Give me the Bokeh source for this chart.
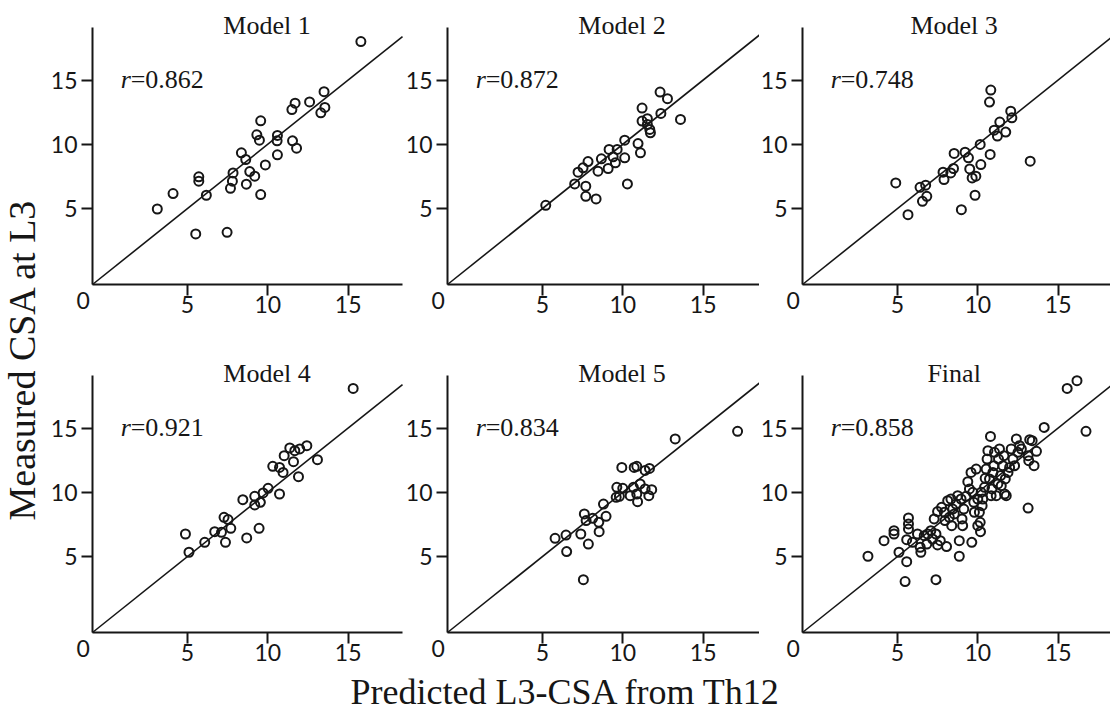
import math
from bokeh.plotting import figure
from bokeh.layouts import row, column
from bokeh.models import Range1d, FixedTicker, Label
from bokeh.embed import file_html
from bokeh.resources import INLINE

# ---------------- data ----------------
titles = ["Model 1", "Model 2", "Model 3", "Model 4", "Model 5", "Final"]
r_values = ["0.862", "0.872", "0.748", "0.921", "0.834", "0.858"]
tick_values = [5, 10, 15]
origin_label = "0"
x_title = "Predicted L3-CSA from Th12"
y_title = "Measured CSA at L3"

m1_pred = [15.79, 13.50, 12.60, 11.70, 11.50, 13.55, 13.30, 9.56, 9.32, 9.48, 10.60, 10.58, 11.54, 11.79, 8.36, 8.63,
           10.60, 9.85, 8.88, 7.84, 9.19, 7.80, 5.71, 5.71, 7.68, 8.67, 9.56, 6.18, 4.11, 3.13, 5.52, 7.47]
m1_meas = [17.99, 14.09, 13.30, 13.20, 12.70, 12.87, 12.45, 11.83, 10.74, 10.32, 10.69, 10.27, 10.27, 9.70, 9.34, 8.82,
           9.18, 8.40, 7.88, 7.78, 7.52, 7.13, 7.47, 7.13, 6.58, 6.90, 6.09, 6.04, 6.17, 4.97, 3.03, 3.16]

m2_pred = [5.21, 7.01, 7.70, 7.70, 8.34, 7.22, 7.53, 7.84, 8.46, 8.67, 9.09, 9.15, 9.40, 9.54, 9.65, 10.12, 10.12,
           10.29, 10.95, 11.10, 11.20, 11.20, 11.53, 11.53, 11.68, 11.72, 12.37, 12.32, 12.78, 13.59]
m2_meas = [5.26, 6.92, 6.74, 5.96, 5.75, 7.83, 8.17, 8.66, 7.91, 8.87, 8.12, 9.60, 9.03, 8.56, 9.60, 10.32, 8.95,
           6.92, 10.06, 9.34, 12.82, 11.81, 11.99, 11.55, 11.16, 10.90, 12.40, 14.06, 13.55, 11.94]

m3_pred = [4.90, 5.66, 6.41, 6.76, 6.56, 6.83, 7.84, 7.90, 8.32, 8.49, 8.53, 9.21, 9.42, 9.50, 9.65, 9.88, 9.83,
           8.98, 10.15, 10.19, 10.77, 10.73, 10.81, 11.02, 11.22, 11.37, 11.74, 12.05, 12.12, 13.26]
m3_meas = [7.00, 4.53, 6.66, 6.82, 5.57, 5.96, 7.83, 7.26, 7.78, 8.12, 9.29, 9.39, 8.95, 8.09, 7.39, 7.52, 6.04,
           4.92, 9.99, 8.43, 9.21, 13.29, 14.22, 11.10, 10.64, 11.73, 10.95, 12.58, 12.06, 8.69]

m4_pred = [15.31, 4.88, 5.10, 6.08, 6.70, 7.12, 7.28, 7.53, 7.70, 7.37, 8.45, 8.69, 9.19, 9.19, 9.54, 9.71, 10.02,
           9.46, 10.73, 10.31, 10.73, 10.95, 11.02, 11.37, 11.60, 11.68, 11.99, 12.43, 11.91, 13.09]
m4_meas = [18.08, 6.76, 5.34, 6.11, 6.94, 6.89, 8.06, 7.88, 7.20, 6.11, 9.43, 6.45, 9.69, 9.02, 9.22, 9.95, 10.31,
           7.20, 9.87, 12.02, 11.94, 11.55, 12.85, 13.45, 12.38, 13.24, 13.37, 13.63, 11.22, 12.54]

m5_pred = [17.14, 13.26, 5.79, 6.47, 6.51, 7.39, 7.55, 7.86, 7.61, 7.72, 8.13, 8.51, 8.53, 8.96, 8.80, 9.59, 9.63,
           9.94, 10.00, 9.79, 10.46, 10.66, 10.71, 10.87, 11.08, 10.87, 10.92, 11.39, 11.66, 11.39, 11.80, 11.62]
m5_meas = [14.74, 14.15, 6.42, 6.68, 5.39, 6.76, 3.21, 5.98, 8.32, 7.80, 7.98, 7.67, 6.94, 8.13, 9.09, 9.61, 10.39,
           11.94, 10.31, 9.69, 9.74, 10.39, 11.94, 12.02, 10.65, 9.87, 9.27, 10.26, 11.86, 11.70, 10.21, 9.74]

final_pred = [3.17, 4.17, 4.79, 4.79, 5.10, 5.48, 5.58, 5.69, 5.69, 5.69, 5.58, 5.94, 6.25, 6.42, 6.46, 6.67, 6.88,
              6.83, 7.08, 7.19, 7.40, 7.50, 7.67, 8.06, 7.40, 7.29, 7.50, 7.75, 7.92, 7.96, 8.13, 8.23, 8.33, 8.44,
              8.38, 8.54, 8.65, 8.75, 8.85, 8.85, 8.96, 9.02, 9.06, 9.13, 9.27, 9.38, 9.48, 9.58, 9.63, 9.69, 9.75,
              9.79, 9.90, 10.00, 10.10, 10.15, 10.17, 10.00, 10.21, 10.27, 10.31, 10.42, 10.46, 10.52, 10.58, 10.63,
              10.73, 10.79, 10.83, 10.88, 10.94, 11.00, 11.04, 11.15, 11.25, 11.29, 11.35, 11.42, 11.46, 11.56,
              11.63, 11.67, 11.71, 11.77, 11.88, 11.98, 12.08, 12.19, 12.29, 12.40, 12.50, 12.60, 12.71, 13.13,
              13.17, 13.23, 13.38, 13.50, 13.65, 13.13, 14.13, 15.56, 16.17, 16.73]
final_meas = [5.03, 6.24, 7.02, 6.76, 5.34, 3.06, 4.61, 8.01, 7.54, 7.15, 6.32, 6.11, 6.76, 5.73, 5.34, 6.63, 6.76,
              5.98, 7.02, 6.37, 6.76, 5.91, 6.24, 5.78, 3.21, 7.93, 8.50, 8.83, 8.45, 7.80, 9.35, 8.06, 9.48, 8.70,
              7.41, 8.32, 9.09, 9.74, 6.24, 5.03, 9.48, 7.93, 7.41, 8.70, 9.69, 10.83, 10.26, 11.55, 6.11, 10.00,
              9.22, 8.45, 11.81, 7.41, 8.45, 7.67, 6.94, 9.48, 10.00, 8.96, 9.48, 10.39, 11.09, 11.81, 12.59, 13.24,
              11.04, 14.35, 9.74, 10.26, 11.55, 12.07, 13.11, 9.74, 10.65, 12.59, 13.37, 11.30, 10.52, 12.07,
              12.85, 9.87, 11.04, 9.74, 11.55, 11.94, 13.37, 12.59, 12.07, 14.15, 13.11, 13.63, 13.37, 12.85,
              12.46, 14.09, 14.02, 12.07, 13.19, 8.78, 15.05, 18.08, 18.68, 14.74]

preds = [m1_pred, m2_pred, m3_pred, m4_pred, m5_pred, final_pred]
meass = [m1_meas, m2_meas, m3_meas, m4_meas, m5_meas, final_meas]

# ---------------- layout / style ----------------
PXU = 16.08   # px per x unit
PYU = 12.86   # px per y unit
AX0 = -0.9    # axes start slightly below 0
INK = "#161616"
SERIF = "Liberation Serif"
SANS = "Lato"
MID = 0.34    # em offset of "middle" above the baseline

# per column: (canvas width, corner offset from canvas left, axis length px)
cols = [(358, 46, 310), (355, 43, 312), (351, 43, 308)]
# per row: (canvas height, corner offset from canvas top, axis height px)
rows_ = [(345, 284, 257), (326, 287, 257)]
title_x = [9.95, 9.95, 8.53]
XT_H = 41     # height of the x-title strip


def make_panel(i):
    r_i, c_i = divmod(i, 3)
    w, cx, alen = cols[c_i]
    h, cy, ahei = rows_[r_i]
    xs = AX0 - cx / PXU
    ys = AX0 - (h - cy) / PYU
    x_axis_end = AX0 + alen / PXU
    y_axis_end = AX0 + ahei / PYU
    p = figure(width=w, height=h, x_range=Range1d(xs, xs + w / PXU), y_range=Range1d(ys, ys + h / PYU),
               output_backend="svg", toolbar_location=None, title=None, min_border=0)
    p.outline_line_color = None
    p.xgrid.visible = False
    p.ygrid.visible = False
    p.background_fill_color = "white"
    p.border_fill_color = "white"
    for ax, end, standoff in ((p.xaxis[0], x_axis_end, 0), (p.yaxis[0], y_axis_end, 4)):
        ax.fixed_location = AX0
        ax.bounds = (AX0, end)
        ax.ticker = FixedTicker(ticks=tick_values)
        ax.axis_line_width = 2
        ax.axis_line_color = INK
        ax.major_tick_out = 11
        ax.major_tick_in = 0
        ax.major_tick_line_width = 2
        ax.major_tick_line_color = INK
        ax.minor_tick_out = 0
        ax.minor_tick_in = 0
        ax.major_label_text_font = SANS
        ax.major_label_text_font_size = "23px"
        ax.major_label_text_color = INK
        ax.major_label_standoff = standoff

    diag_end = min(x_axis_end, y_axis_end)
    p.segment(x0=[AX0], y0=[AX0], x1=[diag_end], y1=[diag_end], line_color=INK, line_width=1.6)
    p.scatter(preds[i], meass[i], marker="circle", size=9, fill_color=None,
              line_color=INK, line_width=2)

    # title (baseline 250 px above the corner)
    p.add_layout(Label(x=title_x[c_i], y=AX0 + (250 + MID * 26) / PYU, text=titles[i], text_align="center",
                       text_baseline="middle", text_font=SERIF, text_font_size="26px", text_color=INK))
    # r = value (baseline 196 px above the corner)
    ry = AX0 + (196 + MID * 26) / PYU
    p.add_layout(Label(x=0.85, y=ry, text="r", text_align="left", text_baseline="middle",
                       text_font=SERIF, text_font_style="italic", text_font_size="26px", text_color=INK))
    p.add_layout(Label(x=0.85, y=ry, x_offset=10, text="=" + r_values[i], text_align="left",
                       text_baseline="middle", text_font=SERIF, text_font_size="26px", text_color=INK))
    # shared origin label
    p.add_layout(Label(x=AX0 - 9.3 / PXU, y=AX0 - 16 / PYU, text=origin_label, text_align="center",
                       text_baseline="middle", text_font=SANS, text_font_size="23px", text_color=INK))
    return p


panels = [make_panel(i) for i in range(6)]

top_x = sum(r[0] for r in rows_)
total_h = top_x + XT_H
ytw = 46
yfig = figure(width=ytw, height=total_h, x_range=Range1d(0, ytw), y_range=Range1d(total_h, 0),
              output_backend="svg", toolbar_location=None, title=None,
              x_axis_type=None, y_axis_type=None, min_border=0)
yfig.outline_line_color = None
yfig.add_layout(Label(x=21, y=359, text=y_title, angle=math.pi / 2, text_align="center",
                      text_baseline="middle", text_font=SERIF, text_font_size="38px", text_color=INK))

xw = sum(c[0] for c in cols)
xfig = figure(width=xw, height=XT_H, x_range=Range1d(ytw, ytw + xw), y_range=Range1d(total_h, top_x),
              output_backend="svg", toolbar_location=None, title=None,
              x_axis_type=None, y_axis_type=None, min_border=0)
xfig.outline_line_color = None
xfig.add_layout(Label(x=565.5, y=704 - MID * 36, text=x_title, text_align="center", text_baseline="middle",
                      text_font=SERIF, text_font_size="36px", text_color=INK))

layout = row(yfig, column(row(*panels[:3]), row(*panels[3:]), xfig))

open("out.html", "w").write(file_html(layout, INLINE))
